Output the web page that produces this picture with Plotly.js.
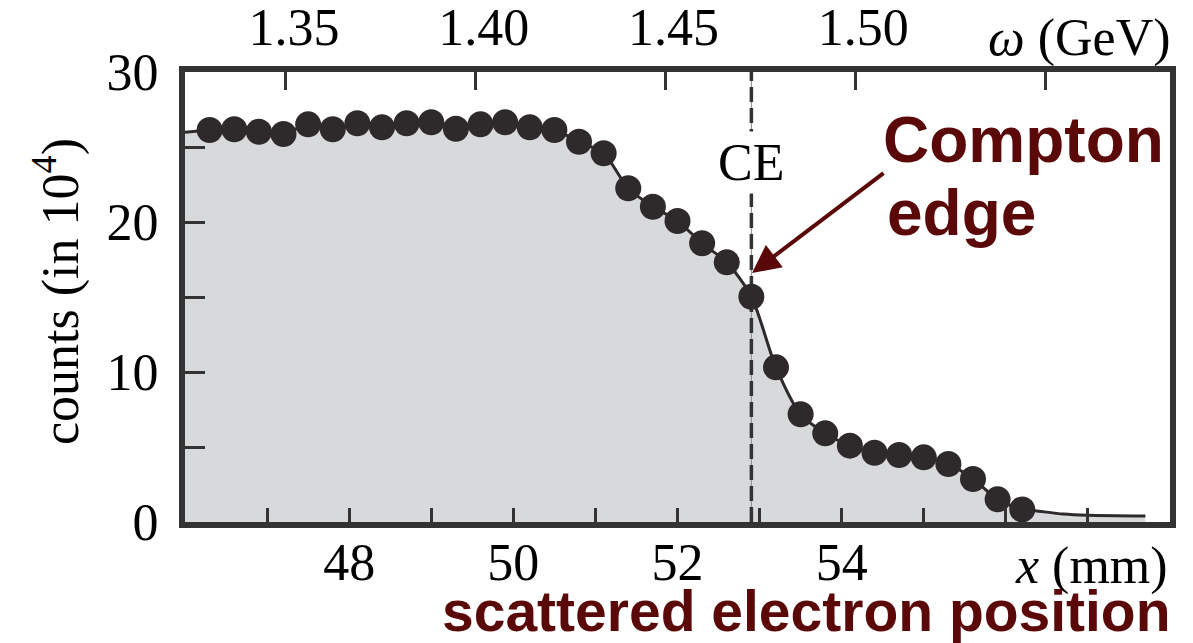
<!DOCTYPE html>
<html>
<head>
<meta charset="utf-8">
<script src="https://cdn.plot.ly/plotly-3.0.1.min.js"></script>
<style>html,body{margin:0;padding:0;background:#fff;}#chart{width:1193px;height:643px;}</style>
</head>
<body>
<div id="chart"></div>
<script>
// Measured points: scattered electron position x (mm) and counts (in 10^4)
const positionMM = [46.3, 46.6, 46.9, 47.2, 47.5, 47.8, 48.1, 48.4, 48.7, 49.0,
                    49.3, 49.6, 49.9, 50.2, 50.5, 50.8, 51.1, 51.4, 51.7, 52.0,
                    52.3, 52.6, 52.9, 53.2, 53.5, 53.8, 54.1, 54.4, 54.7, 55.0,
                    55.3, 55.6, 55.9, 56.2];
const counts = [26.13, 26.18, 26.02, 25.87, 26.51, 26.18, 26.58, 26.31, 26.58, 26.65,
                26.22, 26.51, 26.65, 26.31, 26.13, 25.35, 24.58, 22.25, 21.02, 20.07,
                18.58, 17.31, 15.02, 10.31, 7.18, 5.91, 5.09, 4.62, 4.47, 4.31,
                3.87, 2.87, 1.51, 0.84];
// Fitted curve ends (left start and right tail beyond the measured points)
const curveStartX = [46.0];
const curveStartY = [25.98];
const tailX = [56.36, 56.7, 57.0, 57.7];
const tailY = [0.75, 0.53, 0.45, 0.40];
// Compton edge position
const ceX = 52.9;
const ceYRange = [0, 30];
// Axis ticks
const xTickVals = [47, 48, 49, 50, 51, 52, 53, 54, 55, 56, 57];
const xTickText = ['', '48', '', '50', '', '52', '', '54', '', '', ''];
const omegaRange = [1.3234, 1.5829];
const omegaTickVals = [1.35, 1.40, 1.45, 1.50, 1.55];
const omegaTickText = ['1.35', '1.40', '1.45', '1.50', ''];
const yTickVals = [0, 5, 10, 15, 20, 25, 30];
const yTickText = ['0', '', '10', '', '20', '', '30'];

const curveX = curveStartX.concat(positionMM, tailX);
const curveY = curveStartY.concat(counts, tailY);

const serif = 'Liberation Serif, Times New Roman, serif';
const sans = 'Liberation Sans, Arial, sans-serif';
const maroon = '#5a0808';
const dark = '#2e2a2b';

const traces = [
  {x: curveX, y: curveY, mode: 'lines', type: 'scatter', fill: 'tozeroy',
   fillcolor: '#d8d9db', line: {color: dark, width: 3, shape: 'spline', smoothing: 0.8},
   hoverinfo: 'skip', showlegend: false},
  {x: [ceX, ceX], y: ceYRange, mode: 'lines', type: 'scatter',
   line: {color: '#8a8a8a', width: 1}, hoverinfo: 'skip', showlegend: false},
  {x: [ceX, ceX], y: ceYRange, mode: 'lines', type: 'scatter',
   line: {color: '#333333', width: 3.5, dash: '15px,6px'}, hoverinfo: 'skip', showlegend: false},
  {x: positionMM, y: counts, mode: 'markers', type: 'scatter',
   marker: {size: 26, color: dark}, showlegend: false},
  {x: [], y: [], xaxis: 'x2', yaxis: 'y', type: 'scatter', mode: 'markers', showlegend: false}
];

const layout = {
  width: 1193, height: 643,
  margin: {l: 185, r: 23, t: 72, b: 121},
  paper_bgcolor: '#ffffff', plot_bgcolor: '#ffffff',
  showlegend: false,
  font: {family: serif, color: '#000', size: 50},
  xaxis: {
    range: [46, 58], tickvals: xTickVals, ticktext: xTickText,
    ticks: 'inside', ticklen: 14, tickwidth: 3, tickcolor: '#333',
    showline: true, linewidth: 6, linecolor: '#333', mirror: false,
    showgrid: false, zeroline: false, ticklabelstandoff: -10,
    tickfont: {family: serif, size: 52, color: '#000'}
  },
  xaxis2: {
    overlaying: 'x', side: 'top', anchor: 'y',
    range: omegaRange, tickvals: omegaTickVals, ticktext: omegaTickText,
    ticks: 'inside', ticklen: 18, tickwidth: 3, tickcolor: '#333',
    showline: true, linewidth: 6, linecolor: '#333',
    showgrid: false, zeroline: false, ticklabelshift: 8,
    tickfont: {family: serif, size: 52, color: '#000'}
  },
  yaxis: {
    range: [0, 30], tickvals: yTickVals, ticktext: yTickText,
    ticks: 'inside', ticklen: 20, tickwidth: 3, tickcolor: '#333',
    showline: true, linewidth: 6, linecolor: '#333', mirror: true,
    showgrid: false, zeroline: false, ticklabelstandoff: 10,
    tickfont: {family: serif, size: 52, color: '#000'}
  },
  annotations: [
    {xref: 'paper', yref: 'paper', x: -0.13, y: 0.513, text: 'counts (in 10<sup>4</sup>)',
     textangle: -90, showarrow: false, xanchor: 'center', yanchor: 'middle',
     font: {family: serif, size: 52, color: '#000'}},
    {xref: 'paper', yref: 'paper', x: 1.003, y: 1.0756, text: '<i>ω</i> (GeV)',
     showarrow: false, xanchor: 'right', yanchor: 'middle',
     font: {family: serif, size: 52, color: '#000'}},
    {xref: 'paper', yref: 'paper', x: 1.0, y: -0.097, text: '<i>x</i> (mm)',
     showarrow: false, xanchor: 'right', yanchor: 'middle',
     font: {family: serif, size: 52, color: '#000'}},
    {xref: 'paper', yref: 'paper', x: 1.003, y: -0.198, text: '<b>scattered electron position</b>',
     showarrow: false, xanchor: 'right', yanchor: 'middle',
     font: {family: sans, size: 57, color: maroon}},
    {xref: 'paper', yref: 'paper', x: (881 - 185) / 985, y: (522 - 140) / 450, text: '<b>Compton</b>',
     showarrow: false, xanchor: 'left', yanchor: 'middle',
     font: {family: sans, size: 64, color: maroon}},
    {xref: 'paper', yref: 'paper', x: (885 - 185) / 985, y: (522 - 213) / 450, text: '<b>edge</b>',
     showarrow: false, xanchor: 'left', yanchor: 'middle',
     font: {family: sans, size: 64, color: maroon}},
    {xref: 'x', yref: 'y', x: 52.908, y: 16.6, ax: 133, ay: -101, axref: 'pixel', ayref: 'pixel',
     text: '', showarrow: true, arrowhead: 2, arrowsize: 1.4, arrowwidth: 4, arrowcolor: maroon},
    {xref: 'x', yref: 'y', x: ceX, y: 24.0, text: 'CE', showarrow: false,
     xanchor: 'center', yanchor: 'middle', bgcolor: '#ffffff', borderpad: 2,
     font: {family: serif, size: 52, color: '#000'}}
  ]
};

Plotly.newPlot('chart', traces, layout, {displayModeBar: false, staticPlot: true});
</script>
</body>
</html>
